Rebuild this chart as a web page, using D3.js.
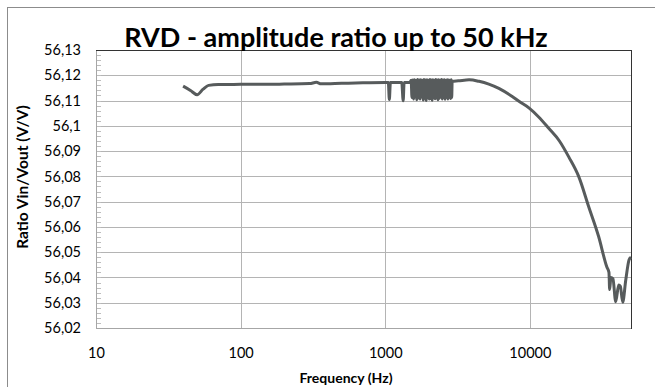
<!DOCTYPE html>
<html>
<head>
<meta charset="utf-8">
<script src="https://cdn.jsdelivr.net/npm/d3@7"></script>
<style>
  body { margin: 0; background: #fff; }
  text { font-family: Lato, "Open Sans", sans-serif; fill: #000; }
</style>
</head>
<body>
<script>
  const freq = [40, 45, 50, 55, 60, 70, 80, 100, 150, 200, 300, 334, 360, 500, 700, 1000,
    1050, 1067, 1085, 1300, 1330, 1350, 1480,
    1510, 1530, 1550, 1570, 1590, 1610, 1630, 1650, 1672, 1695, 1718, 1740, 1762, 1785,
    1808, 1830, 1852, 1875, 1898, 1920, 1943, 1966, 1990, 2014, 2038, 2062, 2086, 2110,
    2135, 2160, 2185, 2210, 2236, 2262, 2288, 2314, 2340, 2367, 2394, 2421, 2448, 2476,
    2504, 2532, 2560, 2590, 2620, 2650, 2680, 2710, 2740, 2770, 2800, 2830, 2860, 2880,
    2900, 3200, 3800, 4450, 5200, 6100, 7500, 8500, 9840, 11500, 13500, 16000, 18600,
    21800, 25500, 29900, 34000, 35200, 35600, 36300, 37500, 39200, 41100, 42200, 43800,
    46000, 48500, 50000];
  const ratio = [56.1157, 56.1140, 56.1123, 56.1145, 56.1160, 56.1163, 56.1163, 56.1164,
    56.1164, 56.1165, 56.1167, 56.1172, 56.1166, 56.1168, 56.1170, 56.1171,
    56.1171, 56.1104, 56.1171, 56.1171, 56.1099, 56.1171, 56.1172,
    56.1180, 56.1112, 56.1181, 56.1106, 56.1182, 56.1115, 56.1180, 56.1103, 56.1183,
    56.1110, 56.1181, 56.1106, 56.1182, 56.1116, 56.1180, 56.1102, 56.1183, 56.1109,
    56.1181, 56.1100, 56.1182, 56.1113, 56.1180, 56.1106, 56.1183, 56.1108, 56.1181,
    56.1101, 56.1182, 56.1114, 56.1180, 56.1107, 56.1183, 56.1110, 56.1181, 56.1103,
    56.1182, 56.1109, 56.1180, 56.1115, 56.1183, 56.1106, 56.1181, 56.1111, 56.1182,
    56.1105, 56.1180, 56.1113, 56.1182, 56.1106, 56.1181, 56.1114, 56.1180, 56.1108,
    56.1182, 56.1112,
    56.1176, 56.1178, 56.1182, 56.1176, 56.1165, 56.1148, 56.1117, 56.1095, 56.1071,
    56.1035, 56.0990, 56.0940, 56.0876, 56.0798, 56.0680, 56.0561, 56.0442, 56.0420,
    56.0352, 56.0400, 56.0395, 56.0304, 56.0370, 56.0365, 56.0302, 56.0390, 56.0470,
    56.0480];

  const yTicks = [56.02, 56.03, 56.04, 56.05, 56.06, 56.07, 56.08, 56.09, 56.10, 56.11, 56.12, 56.13];
  const xTicks = [10, 100, 1000, 10000];

  const w = 655, h = 387;
  const pLeft = 96, pRight = 631, pTop = 50, pBottom = 328;

  const svg = d3.select("body").append("svg")
    .attr("width", w).attr("height", h);

  // outer chart border
  svg.append("rect")
    .attr("x", 7.5).attr("y", 7.5)
    .attr("width", 700).attr("height", 420)
    .attr("fill", "none").attr("stroke", "#8c8c8c");

  const x = d3.scaleLog().domain([10, 50000]).range([pLeft, pRight]);
  const y = d3.scaleLinear().domain([56.02, 56.13]).range([pBottom, pTop]);

  const loc = d3.formatLocale({decimal: ",", thousands: ".", grouping: [3], currency: ["", ""]});
  const fmt = loc.format(".2~f");

  // gridlines
  svg.append("g").selectAll("line").data(yTicks.slice(1, -1)).join("line")
    .attr("x1", pLeft).attr("x2", pRight)
    .attr("y1", d => Math.round(y(d)) + 0.5).attr("y2", d => Math.round(y(d)) + 0.5)
    .attr("stroke", "#b4b4b4");
  svg.append("g").selectAll("line").data(xTicks.slice(1)).join("line")
    .attr("y1", pTop).attr("y2", pBottom)
    .attr("x1", d => Math.round(x(d)) + 0.5).attr("x2", d => Math.round(x(d)) + 0.5)
    .attr("stroke", "#b4b4b4");

  // minor ticks on the left
  const minor = d3.range(0, 56).map(i => 56.02 + i * 0.002);
  svg.append("g").selectAll("line").data(minor).join("line")
    .attr("x1", pLeft).attr("x2", pLeft + 5)
    .attr("y1", d => Math.round(y(d)) + 0.5).attr("y2", d => Math.round(y(d)) + 0.5)
    .attr("stroke", "#bdbdbd");

  // plot border
  svg.append("line").attr("x1", pLeft + 0.5).attr("x2", pLeft + 0.5)
    .attr("y1", pTop).attr("y2", pBottom).attr("stroke", "#a6a6a6");
  svg.append("line").attr("x1", pLeft).attr("x2", pRight)
    .attr("y1", pBottom + 0.5).attr("y2", pBottom + 0.5).attr("stroke", "#a6a6a6");
  svg.append("line").attr("x1", pLeft).attr("x2", pRight + 0.5)
    .attr("y1", pTop + 0.5).attr("y2", pTop + 0.5).attr("stroke", "#333");
  svg.append("line").attr("x1", pRight + 0.5).attr("x2", pRight + 0.5)
    .attr("y1", pTop).attr("y2", pBottom + 1).attr("stroke", "#333");

  // axes (labels only)
  const yAxis = svg.append("g").attr("transform", `translate(${pLeft},0)`)
    .call(d3.axisLeft(y).tickValues(yTicks).tickFormat(fmt).tickSize(0).tickPadding(15));
  const xAxis = svg.append("g").attr("transform", `translate(0,${pBottom})`)
    .call(d3.axisBottom(x).tickValues(xTicks).tickFormat(d3.format("d")).tickSize(0).tickPadding(20));
  [yAxis, xAxis].forEach(g => {
    g.select(".domain").remove();
    g.selectAll("text").style("font-size", "14.5px").style("font-family", "Lato, 'Open Sans', sans-serif").attr("fill", "#111");
  });

  // series
  const line = d3.line().x((d, i) => x(freq[i])).y(d => y(d)).curve(d3.curveMonotoneX);
  svg.append("path").datum(ratio)
    .attr("d", line)
    .attr("fill", "none")
    .attr("stroke", "#575b5c")
    .attr("stroke-width", 3)
    .attr("stroke-linejoin", "round");

  // titles
  svg.append("text").attr("x", 336).attr("y", 47)
    .attr("text-anchor", "middle")
    .style("font-size", "27px").style("font-weight", "bold")
    .text("RVD - amplitude ratio up to 50 kHz");
  svg.append("text").attr("x", 346).attr("y", 383)
    .attr("text-anchor", "middle")
    .style("font-size", "14px").style("font-weight", "bold")
    .text("Frequency (Hz)");
  svg.append("text")
    .attr("transform", "translate(28,177) rotate(-90)")
    .attr("text-anchor", "middle")
    .style("font-size", "15.5px").style("font-weight", "bold")
    .text("Ratio Vin/Vout (V/V)");
</script>
</body>
</html>
